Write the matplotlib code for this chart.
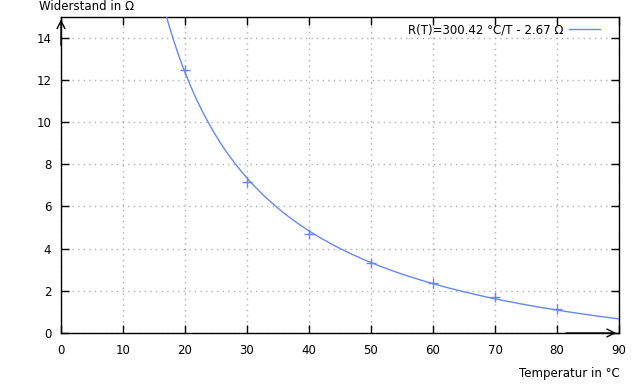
import numpy as np
import matplotlib
matplotlib.use("Agg")
import matplotlib.pyplot as plt

# data
temps = [20, 30, 40, 50, 60, 70, 80]
resist = [12.48, 7.16, 4.69, 3.30, 2.38, 1.72, 1.14]
fit_a = 300.42
fit_b = 2.67
xticks = [0, 10, 20, 30, 40, 50, 60, 70, 80, 90]
yticks = [0, 2, 4, 6, 8, 10, 12, 14]
legend_label = "R(T)=300.42 °C/T - 2.67 Ω"
xlabel = "Temperatur in °C"
ylabel = "Widerstand in Ω"

blue = "#6688f0"
plt.rcParams['font.family'] = ['DejaVu Sans']
fig = plt.figure(figsize=(6.4, 3.84), dpi=100)
ax = fig.add_axes([61/640, 1 - 333/384, (619-61)/640, (333-16.5)/384])

T = np.linspace(16.5, 90, 600)
ax.plot(T, fit_a / T - fit_b, color=blue, lw=1.0, label=legend_label, zorder=3)
ax.plot(temps, resist, linestyle='none', marker='+', ms=7, mew=1.0, color=blue, zorder=4)

ax.set_xlim(0, 90)
ax.set_ylim(0, 15)
ax.set_xticks(xticks)
ax.set_yticks(yticks)
ax.tick_params(direction='in', length=6, width=1.0, top=True, right=True,
               labelsize=8.5, colors='black')
ax.tick_params(axis='x', pad=8)
ax.tick_params(axis='y', pad=7)
ax.grid(True, color='#b0b0b0', linestyle=(0, (1, 3)), lw=1.0)
for s in ax.spines.values():
    s.set_linewidth(1.0)

ax.annotate('', xy=(0, 1.0), xytext=(0, 0.9), xycoords='axes fraction',
            arrowprops=dict(arrowstyle='->', lw=1.0, color='black', mutation_scale=14))
ax.annotate('', xy=(1.0, 0), xytext=(0.9, 0), xycoords='axes fraction',
            arrowprops=dict(arrowstyle='->', lw=1.0, color='black', mutation_scale=14))

fig.text(39/640, 1 - 7/384, ylabel, ha='left', va='center', fontsize=8.5)
fig.text(620/640, 1 - 374/384, xlabel, ha='right', va='center', fontsize=8.5)

leg = ax.legend(loc='upper right', frameon=False, fontsize=8.5, handlelength=2.6,
                markerfirst=False, borderaxespad=0.2, handletextpad=0.5,
                bbox_to_anchor=(0.978, 1.0))

fig.savefig("out.png", dpi=100)
